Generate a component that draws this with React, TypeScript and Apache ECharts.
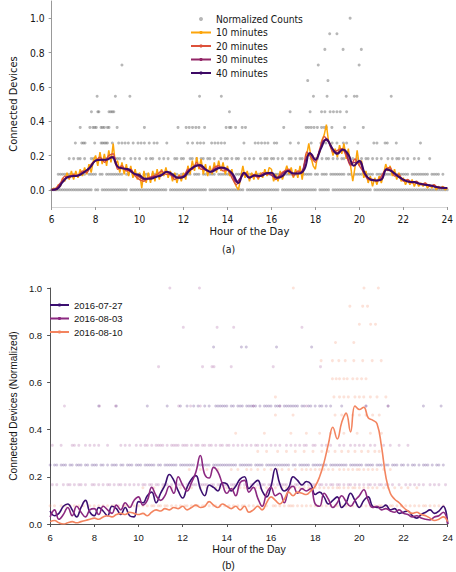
import React, { useEffect, useRef } from "react";
import * as echarts from "echarts";

// ---------- shared ----------
const HOUR_START = 6;
const topYTicks = [0, 0.2, 0.4, 0.6, 0.8, 1.0];

// ---------- panel (a): normalized counts (levels k/11) ----------
// dense rows as 0.1-hour slot masks (one string per hour, 6..23, then 24)
const countsRow0Mask = [
  "##########", "#########.", "##.#######", "#####.####", "##########", "###.######",
  "##########", "#.########", "########.#", "##########", "####.#####", "##########",
  "#.#####.##", "##########", "######.###", "##########", "##########", "##########", "#",
];
const countsRow1Mask = [
  "...#######", "##.###.###", "#.##.#####", "###.##.###", "#.###.####", "##.#####.#",
  "####.###.#", "#.###.####", "###.######", "##.####.##", "#####.####", "###.#####.",
  "##.###.###", "####.##.##", "##.####.##", "#####.####", "###.######", "##.####.#.", ".",
];
const countsRow2Mask = [
  "........#.", "#.##.#..##", "#.#.##.#.#", "##.#..#.#.", "#..#.##..#", ".#.#..##.#",
  "#..##.#.##", ".##.#..#.#", "#.#.##..#.", "#.#..#.##.", "##.#.#..##", ".#.##.#.#.",
  "##.#.##.#.", "#.##.#.#.#", ".#.##.#.#.", "#..#.#.##.", "#.#..#.#..", "..#.......", ".",
];
// sparse rows: hours at which a count of k/11 was seen
const countsLvl3Hours = [7.08, 7.37, 7.45, 7.52, 7.96, 8.25, 8.32, 8.4, 8.47, 8.54, 8.76, 9.05, 9.2, 9.34, 9.49, 9.71, 9.93, 10.07, 10.22, 10.44, 10.66, 10.8, 11.24, 12.19, 12.41, 12.63, 12.77, 12.92, 13.28, 13.43, 13.57, 13.72, 13.87, 14.75, 15.26, 15.4, 15.55, 15.7, 15.84, 16.13, 16.24, 16.86, 17.23, 17.81, 18.25, 18.47, 18.76, 18.98, 19.27, 19.42, 19.93, 20.66, 20.8, 21.17, 21.27, 21.68, 22.78];
const countsLvl4Hours = [7.3, 7.74, 7.88, 7.96, 8.03, 8.25, 8.32, 8.4, 8.54, 8.61, 8.98, 10.22, 11.75, 12.12, 12.26, 12.41, 12.56, 12.7, 12.96, 13.94, 14.09, 14.16, 14.37, 14.67, 14.82, 16.56, 17.58, 17.69, 17.81, 17.94, 18.09, 18.28, 18.4, 18.5, 18.75, 19.33, 20.18];
const countsLvl5Hours = [7.81, 8.1, 8.15, 8.61, 8.69, 8.76, 8.83, 14.09, 16.85, 17.76, 18.28, 18.43, 18.67, 18.82, 18.98, 19.13, 19.42];
const countsLvl6Hours = [8.07, 8.9, 9.56, 12.73, 13.72, 17.91, 18.53, 19.4, 19.77, 19.89, 21.45];
const countsLvl7Hours = [17.65, 18.57];
const countsLvl8Hours = [9.2, 18.13, 19.99];
const countsLvl9Hours = [18.43, 19.26, 20.09];
const countsLvl10Hours = [18.65, 18.98];
const countsLvl11Hours = [19.58];

// moving averages (10 min: 0.1 h steps, 20/30 min: 0.2 h steps, 40 min: 0.25 h steps)
const avg10Values = [
  0.00, 0.01, 0.00, 0.03, 0.02, 0.07, 0.05, 0.10, 0.06, 0.11,
  0.06, 0.11, 0.07, 0.12, 0.08, 0.13, 0.09, 0.15, 0.10, 0.17,
  0.20, 0.14, 0.22, 0.15, 0.21, 0.14, 0.23, 0.16, 0.27, 0.15,
  0.17, 0.10, 0.16, 0.09, 0.15, 0.08, 0.14, 0.07, 0.12, 0.06,
  0.10, 0.01, 0.11, 0.04, 0.10, 0.04, 0.11, 0.05, 0.12, 0.06,
  0.12, 0.08, 0.13, 0.07, 0.11, 0.05, 0.10, 0.04, 0.09, 0.05,
  0.10, 0.06, 0.14, 0.09, 0.17, 0.11, 0.19, 0.12, 0.18, 0.09,
  0.15, 0.08, 0.14, 0.09, 0.16, 0.10, 0.17, 0.11, 0.16, 0.09,
  0.14, 0.08, 0.12, 0.05, 0.02, 0.00, 0.07, 0.14, 0.07, 0.11,
  0.05, 0.10, 0.06, 0.11, 0.06, 0.10, 0.07, 0.12, 0.08, 0.13,
  0.12, 0.05, 0.09, 0.05, 0.11, 0.06, 0.10, 0.14, 0.09, 0.13,
  0.07, 0.12, 0.07, 0.14, 0.06, 0.15, 0.20, 0.27, 0.19, 0.14,
  0.12, 0.20, 0.22, 0.29, 0.32, 0.38, 0.28, 0.26, 0.20, 0.24,
  0.19, 0.26, 0.21, 0.27, 0.18, 0.24, 0.14, 0.05, 0.13, 0.23,
  0.14, 0.17, 0.07, 0.11, 0.04, 0.08, 0.02, 0.07, 0.03, 0.08,
  0.04, 0.09, 0.15, 0.11, 0.14, 0.08, 0.12, 0.06, 0.10, 0.05,
  0.07, 0.03, 0.06, 0.03, 0.06, 0.02, 0.05, 0.02, 0.04, 0.02,
  0.04, 0.01, 0.03, 0.01, 0.03, 0.00, 0.02, 0.01, 0.02, 0.00,
  0.01,
];
const avg20Values = [
  0.00, 0.01, 0.04, 0.08, 0.07, 0.09, 0.08, 0.11, 0.10, 0.15,
  0.17, 0.19, 0.16, 0.20, 0.21, 0.12, 0.14, 0.11, 0.12, 0.08,
  0.06, 0.05, 0.07, 0.08, 0.09, 0.11, 0.09, 0.09, 0.06, 0.08,
  0.08, 0.12, 0.12, 0.16, 0.12, 0.12, 0.10, 0.13, 0.14, 0.11,
  0.12, 0.07, 0.03, 0.07, 0.10, 0.07, 0.09, 0.07, 0.10, 0.09,
  0.09, 0.06, 0.09, 0.11, 0.12, 0.08, 0.11, 0.10, 0.22, 0.19,
  0.16, 0.24, 0.31, 0.28, 0.22, 0.23, 0.24, 0.20, 0.14, 0.18,
  0.14, 0.10, 0.06, 0.06, 0.05, 0.08, 0.12, 0.13, 0.08, 0.09,
  0.05, 0.06, 0.04, 0.05, 0.03, 0.04, 0.02, 0.03, 0.01, 0.015,
  0.01,
];
const avg30Values = [
  0.00, 0.005, 0.035, 0.065, 0.08, 0.08, 0.085, 0.10, 0.115, 0.14,
  0.17, 0.175, 0.175, 0.185, 0.195, 0.135, 0.125, 0.12, 0.105, 0.09,
  0.075, 0.06, 0.065, 0.075, 0.08, 0.09, 0.105, 0.09, 0.075, 0.07,
  0.08, 0.11, 0.13, 0.145, 0.135, 0.115, 0.105, 0.12, 0.13, 0.125,
  0.115, 0.09, 0.045, 0.07, 0.095, 0.075, 0.08, 0.08, 0.09, 0.10,
  0.085, 0.07, 0.08, 0.105, 0.11, 0.095, 0.095, 0.11, 0.19, 0.21,
  0.175, 0.23, 0.29, 0.28, 0.235, 0.215, 0.235, 0.215, 0.15, 0.16,
  0.16, 0.10, 0.07, 0.055, 0.055, 0.065, 0.115, 0.115, 0.095, 0.075,
  0.06, 0.05, 0.045, 0.04, 0.035, 0.03, 0.025, 0.02, 0.015, 0.01,
  0.01,
];
const avg40Values = [
  0.00, 0.005, 0.045, 0.075, 0.08, 0.085, 0.105, 0.13,
  0.17, 0.175, 0.175, 0.19, 0.135, 0.125, 0.12, 0.095,
  0.085, 0.065, 0.065, 0.075, 0.085, 0.105, 0.09, 0.07,
  0.075, 0.11, 0.135, 0.145, 0.12, 0.105, 0.12, 0.13,
  0.12, 0.09, 0.04, 0.10, 0.07, 0.085, 0.08, 0.095,
  0.10, 0.07, 0.08, 0.11, 0.095, 0.095, 0.12, 0.215,
  0.175, 0.24, 0.295, 0.245, 0.21, 0.235, 0.205, 0.14,
  0.17, 0.095, 0.06, 0.055, 0.06, 0.12, 0.105, 0.08,
  0.06, 0.047, 0.045, 0.035, 0.03, 0.025, 0.017, 0.012,
  0.01,
];

// ---------- panel (b): three days ----------
const dayNames = ["2016-07-27", "2016-08-03", "2016-08-10"];
// lines, 0.2 h steps
const day0727Values = [
  0.055, 0.035, 0.045, 0.075, 0.085, 0.06, 0.03, 0.07, 0.10, 0.05,
  0.035, 0.07, 0.055, 0.035, 0.075, 0.065, 0.04, 0.07, 0.035, 0.03,
  0.095, 0.09, 0.12, 0.135, 0.09, 0.13, 0.165, 0.21, 0.185, 0.14,
  0.11, 0.155, 0.19, 0.205, 0.15, 0.12, 0.165, 0.155, 0.14, 0.175,
  0.17, 0.14, 0.16, 0.19, 0.20, 0.15, 0.17, 0.185, 0.14, 0.115,
  0.16, 0.235, 0.17, 0.14, 0.155, 0.20, 0.185, 0.165, 0.18, 0.17,
  0.125, 0.135, 0.115, 0.085, 0.10, 0.115, 0.07, 0.09, 0.13, 0.10,
  0.07, 0.10, 0.115, 0.075, 0.07, 0.07, 0.08, 0.06, 0.065, 0.045,
  0.05, 0.055, 0.035, 0.025, 0.04, 0.05, 0.06, 0.045, 0.055, 0.075,
  0.0,
];
const day0803Values = [
  0.03, 0.06, 0.02, 0.04, 0.07, 0.035, 0.075, 0.05, 0.03, 0.06,
  0.065, 0.04, 0.075, 0.06, 0.045, 0.08, 0.06, 0.09, 0.07, 0.10,
  0.115, 0.08, 0.10, 0.155, 0.12, 0.10, 0.12, 0.16, 0.13, 0.20,
  0.165, 0.14, 0.175, 0.22, 0.29, 0.21, 0.195, 0.24, 0.22, 0.17,
  0.13, 0.15, 0.12, 0.175, 0.185, 0.135, 0.155, 0.11, 0.075, 0.13,
  0.155, 0.12, 0.13, 0.09, 0.145, 0.16, 0.13, 0.15, 0.14, 0.15,
  0.085, 0.075, 0.13, 0.105, 0.07, 0.09, 0.12, 0.095, 0.075, 0.10,
  0.12, 0.145, 0.10, 0.07, 0.075, 0.06, 0.065, 0.055, 0.05, 0.06,
  0.045, 0.04, 0.03, 0.035, 0.025, 0.02, 0.017, 0.03, 0.035, 0.05,
  0.0,
];
const day0810Values = [
  0.01, 0.015, 0.005, 0.0, 0.005, 0.01, 0.005, 0.01, 0.015, 0.02,
  0.025, 0.02, 0.03, 0.035, 0.03, 0.04, 0.045, 0.04, 0.05, 0.045,
  0.04, 0.045, 0.035, 0.05, 0.06, 0.055, 0.065, 0.06, 0.07, 0.065,
  0.075, 0.06, 0.07, 0.08, 0.07, 0.075, 0.095, 0.08, 0.07, 0.085,
  0.075, 0.065, 0.075, 0.06, 0.075, 0.05, 0.06, 0.075, 0.06, 0.09,
  0.115, 0.10, 0.085, 0.105, 0.135, 0.12, 0.135, 0.13, 0.125, 0.14,
  0.16, 0.20, 0.26, 0.34, 0.41, 0.36, 0.43, 0.47, 0.39, 0.50,
  0.485, 0.495, 0.45, 0.44, 0.425, 0.33, 0.20, 0.13, 0.105, 0.09,
  0.07, 0.055, 0.045, 0.05, 0.04, 0.035, 0.025, 0.015, 0.02, 0.03,
  0.01,
];
// dots: dense rows as 0.1 h slot masks, sparse rows as hour lists
const d0727QuarterMask = [
  "#.##.###.#", "#.###.##.#", "##.##.#.##", "#.##.###.#", "##.#####.#", "#.######.#",
  "######.###", "###.######", "#####.####", "##.####.##", "#########.", "##.#####.#",
  "######.###", "#####.####", "##.####.##", "#.##.###.#", "#.#.##.#.#", "##.#.##.#.", ".",
];
const d0727HalfMask = [
  "..........", "..........", "..#.......", "#.........", "....#.....", "...#.....#",
  "..#..#.#..", "#.#..#####", "#.##.###.#", "####.#.###", "#.###.####", "###.##.##.",
  "#.##.#.#..", "..#.......", "...#......", "...#......", ".........#", ".......#..", ".",
];
const d0727ThreeQuarterHours = [13.4, 14.66, 14.88, 16.25, 17.84];
const d0803SixthMask = [
  ".#.#..#.##", ".#.##.#..#", "#.#.#.##.#", ".##.#.#.#.", "#.##.##.##", ".###.#.###",
  "#.#.###.##", "##.##.##.#", "#.###.#.##", ".##.#.##.#", "##.#.###.#", ".##.##.#.#",
  "#.##.#.##.", "##.#.##.#.", "#.#.##.#.#", "#.##.#..#.", ".#.#.#.#.#", "..#.#.#..#", ".",
];
const d0803ThirdMask = [
  ".#...#....", "##.#..#.#.", "#.#...#...", "..#.#.#..#", ".#.##.#.##", "##.#.####.",
  "###.#.##.#", "#.##.#.##.", "##.#.#.#.#", ".#.##.#.#.", "#.#.#..#.#", ".#.#.##..#",
  "#..#.#.#..", ".#.#..#.#.", "#.#..#.#..", ".#..#...#.", "..#.......", "..........", ".",
];
const d0803HalfHours = [6.65, 8.24, 8.96, 11.82, 12.36, 12.8, 15.2, 16.4, 17.6, 20.3, 21.3];
const d0803TwoThirdHours = [10.91, 12.9, 13.33, 13.42, 14.2, 16.1, 18.24];
const d0803FiveSixthHours = [12.03, 13.56, 14.31, 17.4];
const d0803FullHours = [11.42, 12.76];
const d0810Lvl1Mask = [
  "#.#..#.#.#", ".#.#.#..#.", "#.#.#.#.##", ".#.##.#.#.", "#.#.#.##.#", "#.##.#.#.#",
  ".##.#.##.#", "#.#.##.#.#", ".#.#.#.##.", "#.#.#.#.#.", ".##.#.#.##", "#.#.#.#.#.",
  "##.#.#.#.#", "#.#.#.##.#", ".#.#.#.#.#", "#.#.##.#.#", ".#.#.#.#.#", "#.#.#.#.#.", ".",
];
const d0810Lvl2Mask = [
  "..........", "..........", "..........", "..........", "..#....#..", ".#...#...#",
  "..#.#...#.", ".#...#.#..", "#..#..#.#.", ".#.#.#..#.", "#.#..#.#.#", ".#.#.#.##.",
  "#.#.#.#.#.", "##.#.#.##.", "#.#.#.#.#.", ".#.#..#..#", "..#...#...", "..........", ".",
];
const d0810Lvl3Mask = [
  "..........", "..........", "..........", "..........", "..........", "..........",
  "...#....#.", ".#....#...", "..#..#...#", ".#..#..#..", "#..#.#..#.", ".#..#.#.#.",
  "#.#.#.#.#.", ".#.#.#.#.#", "#.#.#.#.#.", ".#..#.....", "..........", "..........", ".",
];
const d0810Lvl4Hours = [15.4, 15.8, 16.3, 16.7, 17.1, 17.5, 17.9, 18.3, 18.6, 18.9, 19.2, 19.5, 19.8, 20.1, 20.4, 20.7, 20.9];
const d0810Lvl5Hours = [14.4, 15.7, 16.9, 17.6, 18.2, 18.7, 19.3, 19.9, 20.5, 21.0];
const d0810Lvl6Hours = [16.2, 17.0, 18.9, 19.2, 19.4, 19.7, 20.0, 20.3, 20.6, 20.9];
const d0810Lvl7Hours = [16.2, 18.85, 19.1, 19.3, 19.5, 19.8, 20.0, 20.2, 20.5, 20.8, 21.2];
const d0810Lvl8Hours = [18.78, 18.95, 19.1, 19.3, 19.45, 19.7, 19.9, 20.1, 20.3];
const d0810Lvl9Hours = [18.27, 18.78, 19.07, 19.36, 19.75, 20.15, 20.58, 20.99];
const d0810Lvl10Hours = [18.92, 19.75];
const d0810Lvl11Hours = [20.0, 20.51, 20.73];
const d0810Lvl12Hours = [19.57, 20.15, 20.37];
const d0810Lvl13Hours = [17.01, 20.21, 20.86];

// ---------- helpers ----------
function maskPoints(mask: string[], level: number): number[][] {
  const s = mask.join("");
  const pts: number[][] = [];
  for (let i = 0; i < s.length; i++) if (s[i] === "#") pts.push([HOUR_START + i * 0.1, level]);
  return pts;
}
function hourPoints(hours: number[], level: number): number[][] {
  return hours.map((h) => [h, level]);
}
function stepSeries(values: number[], step: number): number[][] {
  return values.map((v, i) => [HOUR_START + i * step, v]);
}

const TOP_FONT = "'DejaVu Sans Condensed', 'DejaVu Sans', sans-serif";
const BOT_FONT = "'Liberation Sans', Arial, sans-serif";
const TEXT = "#151515";

export default function App() {
  const ref = useRef<HTMLDivElement>(null);
  useEffect(() => {
    document.body.style.margin = "0";
    if (!ref.current) return;
    const chart = echarts.init(ref.current, undefined, { renderer: "svg" });

    const countsData = [
      ...maskPoints(countsRow0Mask, 0),
      ...maskPoints(countsRow1Mask, 1 / 11),
      ...maskPoints(countsRow2Mask, 2 / 11),
      ...hourPoints(countsLvl3Hours, 3 / 11),
      ...hourPoints(countsLvl4Hours, 4 / 11),
      ...hourPoints(countsLvl5Hours, 5 / 11),
      ...hourPoints(countsLvl6Hours, 6 / 11),
      ...hourPoints(countsLvl7Hours, 7 / 11),
      ...hourPoints(countsLvl8Hours, 8 / 11),
      ...hourPoints(countsLvl9Hours, 9 / 11),
      ...hourPoints(countsLvl10Hours, 10 / 11),
      ...hourPoints(countsLvl11Hours, 1),
    ];
    const dots0727 = [
      ...maskPoints(d0727QuarterMask, 0.25),
      ...maskPoints(d0727HalfMask, 0.5),
      ...hourPoints(d0727ThreeQuarterHours, 0.75),
    ];
    const dots0803 = [
      ...maskPoints(d0803SixthMask, 1 / 6),
      ...maskPoints(d0803ThirdMask, 1 / 3),
      ...hourPoints(d0803HalfHours, 0.5),
      ...hourPoints(d0803TwoThirdHours, 2 / 3),
      ...hourPoints(d0803FiveSixthHours, 5 / 6),
      ...hourPoints(d0803FullHours, 1),
    ];
    const dots0810 = [
      ...maskPoints(d0810Lvl1Mask, 1 / 13),
      ...maskPoints(d0810Lvl2Mask, 2 / 13),
      ...maskPoints(d0810Lvl3Mask, 3 / 13),
      ...hourPoints(d0810Lvl4Hours, 4 / 13),
      ...hourPoints(d0810Lvl5Hours, 5 / 13),
      ...hourPoints(d0810Lvl6Hours, 6 / 13),
      ...hourPoints(d0810Lvl7Hours, 7 / 13),
      ...hourPoints(d0810Lvl8Hours, 8 / 13),
      ...hourPoints(d0810Lvl9Hours, 9 / 13),
      ...hourPoints(d0810Lvl10Hours, 10 / 13),
      ...hourPoints(d0810Lvl11Hours, 11 / 13),
      ...hourPoints(d0810Lvl12Hours, 12 / 13),
      ...hourPoints(d0810Lvl13Hours, 1),
    ];

    const topLine = (name: string, values: number[], step: number, color: string, width: number, smooth: number) => ({
      name, type: "line", xAxisIndex: 0, yAxisIndex: 0, data: stepSeries(values, step),
      symbol: "none", showSymbol: false, smooth, lineStyle: { color, width }, itemStyle: { color },
    });
    const dayLine = (name: string, values: number[], color: string) => ({
      name, type: "line", xAxisIndex: 1, yAxisIndex: 1, data: stepSeries(values, 0.2),
      symbol: "none", showSymbol: false, smooth: 0.45, lineStyle: { color, width: 1.6 }, itemStyle: { color },
    });
    const dots = (name: string, data: number[][], color: string) => ({
      name, type: "scatter", xAxisIndex: 1, yAxisIndex: 1, data, symbolSize: 3, itemStyle: { color },
    });

    const fmt = (v: number) => v.toFixed(1);

    chart.setOption({
      animation: false,
      backgroundColor: "#ffffff",
      grid: [
        { left: 37, top: 1, width: 411, height: 206 },
        { left: 35, top: 288, width: 415, height: 236 },
      ],
      xAxis: [
        {
          gridIndex: 0, type: "value", min: 6, max: 24, interval: 2,
          axisLine: { show: true, onZero: false, lineStyle: { color: "#d6d6d6", width: 1 } },
          axisTick: { show: true, length: 3, lineStyle: { color: "#999" } },
          axisLabel: { fontFamily: TOP_FONT, fontSize: 10, color: TEXT, margin: 7 },
          splitLine: { show: false },
          name: "Hour of the Day", nameLocation: "middle", nameGap: 19,
          nameTextStyle: { fontFamily: TOP_FONT, fontSize: 11.2, color: TEXT },
        },
        {
          gridIndex: 1, type: "value", min: 6, max: 24, interval: 2,
          axisLine: { show: true, onZero: false, lineStyle: { color: "#555", width: 1 } },
          axisTick: { show: true, length: 3, lineStyle: { color: "#555" } },
          axisLabel: { fontFamily: BOT_FONT, fontSize: 9.5, color: TEXT, margin: 8 },
          splitLine: { show: false },
          name: "Hour of the Day", nameLocation: "middle", nameGap: 19,
          nameTextStyle: { fontFamily: BOT_FONT, fontSize: 10.5, color: TEXT },
        },
      ],
      yAxis: [
        {
          gridIndex: 0, type: "value", min: -0.1, max: 1.1,
          axisLine: { show: true, onZero: false, lineStyle: { color: "#999", width: 1 } },
          axisTick: { show: true, length: 3, customValues: topYTicks, lineStyle: { color: "#999" } },
          axisLabel: { fontFamily: TOP_FONT, fontSize: 10.3, color: TEXT, margin: 7, customValues: topYTicks, formatter: fmt },
          splitLine: { show: false },
          name: "Connected Devices", nameLocation: "middle", nameGap: 23,
          nameTextStyle: { fontFamily: TOP_FONT, fontSize: 11, color: TEXT },
        },
        {
          gridIndex: 1, type: "value", min: 0, max: 1, interval: 0.2,
          axisLine: { show: true, onZero: false, lineStyle: { color: "#555", width: 1 } },
          axisTick: { show: true, length: 3, lineStyle: { color: "#555" } },
          axisLabel: { fontFamily: BOT_FONT, fontSize: 9.5, color: TEXT, margin: 8, formatter: fmt },
          splitLine: { show: false },
          name: "Connected Devices (Normalized)", nameLocation: "middle", nameGap: 24,
          nameTextStyle: { fontFamily: BOT_FONT, fontSize: 10.2, color: TEXT },
        },
      ],
      legend: [
        {
          data: ["Normalized Counts", "10 minutes", "20 minutes", "30 minutes", "40 minutes"],
          orient: "vertical", left: 185, top: 8, itemWidth: 20, itemHeight: 4, itemGap: 1.5,
          textStyle: { fontFamily: TOP_FONT, fontSize: 10.2, lineHeight: 12, color: TEXT },
        },
        {
          data: dayNames,
          orient: "vertical", left: 44, top: 294, itemWidth: 19, itemHeight: 4, itemGap: 1.5,
          textStyle: { fontFamily: BOT_FONT, fontSize: 9.5, lineHeight: 12, color: TEXT },
        },
      ],
      graphic: [
        { type: "text", left: 222, top: 243, style: { text: "(a)", fontFamily: TOP_FONT, fontSize: 10.5, fill: TEXT } },
        { type: "text", left: 222, top: 559, style: { text: "(b)", fontFamily: BOT_FONT, fontSize: 10.5, fill: TEXT } },
      ],
      series: [
        {
          name: "Normalized Counts", type: "scatter", xAxisIndex: 0, yAxisIndex: 0, data: countsData,
          symbolSize: 3, itemStyle: { color: "rgba(105,105,105,0.6)" },
        },
        topLine("10 minutes", avg10Values, 0.1, "#fca50a", 1.5, 0),
        topLine("20 minutes", avg20Values, 0.2, "#dd513a", 1.4, 0.25),
        topLine("30 minutes", avg30Values, 0.2, "#932667", 1.4, 0.35),
        topLine("40 minutes", avg40Values, 0.25, "#3d0965", 2, 0.45),
        dots("dots-0727", dots0727, "rgba(59,15,112,0.3)"),
        dots("dots-0803", dots0803, "rgba(140,41,129,0.26)"),
        dots("dots-0810", dots0810, "rgba(243,132,95,0.3)"),
        dayLine(dayNames[0], day0727Values, "#3b0f70"),
        dayLine(dayNames[1], day0803Values, "#8c2981"),
        dayLine(dayNames[2], day0810Values, "#f3845f"),
      ],
    });
    return () => chart.dispose();
  }, []);
  return <div ref={ref} style={{ width: 456, height: 572 }} />;
}
